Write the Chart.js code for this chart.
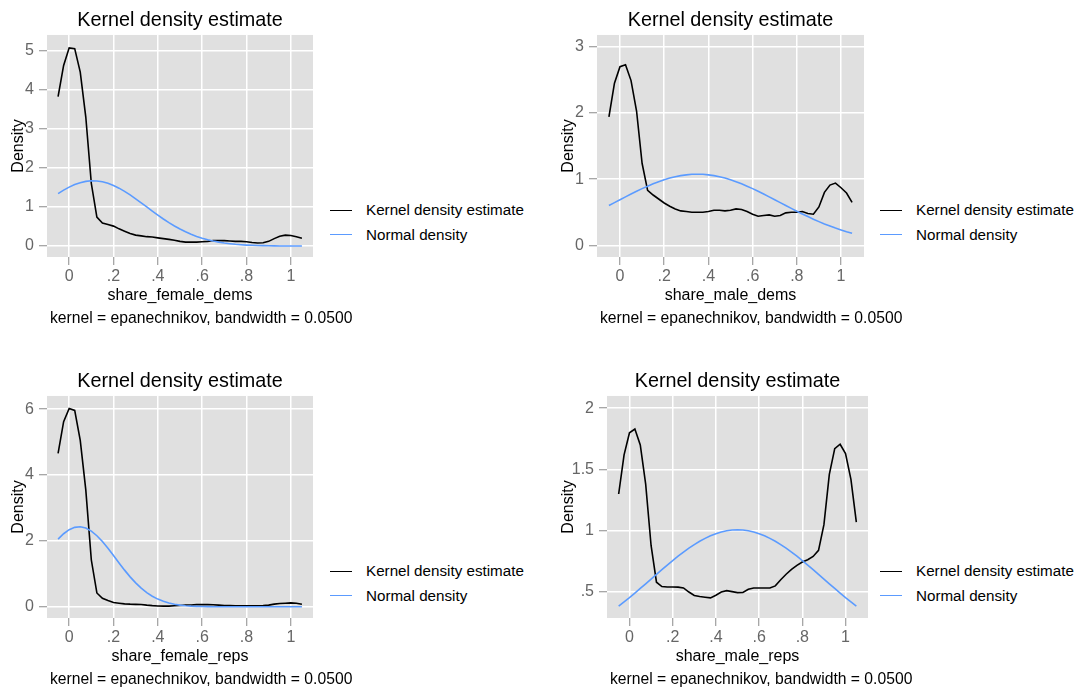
<!DOCTYPE html>
<html>
<head>
<meta charset="utf-8">
<title>Kernel density estimate</title>
<script src="https://cdn.jsdelivr.net/npm/chart.js"></script>
<style>
    body { margin: 0; background: #fff; }
    #page { position: relative; width: 1085px; height: 687px; overflow: hidden; }
    canvas { position: absolute; }
    .legend, .note { position: absolute; font-family: 'Liberation Sans', Arial, sans-serif; color: #000; white-space: nowrap; }
    .legend { font-size: 15.2px; }
    .note { font-size: 15.7px; height: 20px; line-height: 20px; }
    .legend-row { display: flex; align-items: center; height: 18px; line-height: 18px; }
    .legend-row .swatch { width: 22px; height: 0; border-top: 1.5px solid; margin-right: 14px; }
</style>
</head>
<body>
<div id="page"></div>
<script>
// Dati
const xGrid = [-0.05, -0.025, 0, 0.025, 0.05, 0.075, 0.1, 0.125, 0.15, 0.175, 0.2, 0.225, 0.25, 0.275, 0.3,
    0.325, 0.35, 0.375, 0.4, 0.425, 0.45, 0.475, 0.5, 0.525, 0.55, 0.575, 0.6, 0.625, 0.65, 0.675, 0.7,
    0.725, 0.75, 0.775, 0.8, 0.825, 0.85, 0.875, 0.9, 0.925, 0.95, 0.975, 1, 1.025, 1.05];

const femaleDemsKde = [3.82, 4.62, 5.07, 5.05, 4.45, 3.30, 1.60, 0.74, 0.59, 0.55, 0.51, 0.44, 0.38, 0.32, 0.28,
    0.26, 0.24, 0.23, 0.21, 0.19, 0.17, 0.15, 0.12, 0.10, 0.10, 0.10, 0.11, 0.12, 0.14, 0.14, 0.14,
    0.13, 0.12, 0.12, 0.11, 0.09, 0.08, 0.085, 0.12, 0.19, 0.25, 0.28, 0.27, 0.24, 0.20];
const femaleDemsNormal = [1.342, 1.430, 1.508, 1.572, 1.622, 1.654, 1.669, 1.666, 1.644, 1.606, 1.551, 1.481, 1.400, 1.308, 1.209,
    1.106, 1.000, 0.895, 0.792, 0.693, 0.600, 0.514, 0.435, 0.364, 0.302, 0.247, 0.201, 0.161, 0.128, 0.100, 0.078,
    0.060, 0.045, 0.034, 0.025, 0.019, 0.013, 0.010, 0.007, 0.005, 0.003, 0.002, 0.001, 0.001, 0.001];

const maleDemsKde = [1.94, 2.45, 2.70, 2.73, 2.49, 2.03, 1.24, 0.83, 0.76, 0.70, 0.64, 0.59, 0.55, 0.52, 0.51,
    0.50, 0.50, 0.50, 0.51, 0.53, 0.53, 0.52, 0.53, 0.55, 0.54, 0.51, 0.47, 0.44, 0.45, 0.46, 0.44,
    0.45, 0.49, 0.50, 0.50, 0.51, 0.48, 0.47, 0.58, 0.80, 0.91, 0.94, 0.87, 0.79, 0.65];
const maleDemsNormal = [0.601, 0.645, 0.689, 0.732, 0.775, 0.817, 0.857, 0.894, 0.930, 0.962, 0.991, 1.016, 1.037, 1.053, 1.065,
    1.073, 1.075, 1.073, 1.065, 1.053, 1.037, 1.016, 0.991, 0.962, 0.930, 0.894, 0.857, 0.817, 0.775, 0.732, 0.689,
    0.645, 0.601, 0.558, 0.515, 0.474, 0.434, 0.395, 0.358, 0.323, 0.291, 0.260, 0.232, 0.205, 0.181];

const femaleRepsKde = [4.66, 5.62, 6.02, 5.96, 5.05, 3.55, 1.42, 0.42, 0.26, 0.19, 0.13, 0.11, 0.09, 0.08, 0.075,
    0.07, 0.05, 0.035, 0.025, 0.02, 0.02, 0.03, 0.04, 0.05, 0.055, 0.065, 0.07, 0.065, 0.06, 0.05, 0.04,
    0.035, 0.03, 0.03, 0.03, 0.03, 0.03, 0.035, 0.05, 0.08, 0.10, 0.11, 0.12, 0.11, 0.08];
const femaleRepsNormal = [2.055, 2.218, 2.340, 2.412, 2.430, 2.390, 2.297, 2.157, 1.980, 1.775, 1.555, 1.331, 1.113, 0.909, 0.726,
    0.566, 0.431, 0.321, 0.234, 0.166, 0.115, 0.078, 0.052, 0.034, 0.021, 0.013, 0.008, 0.005, 0.003, 0.002, 0.001,
    0.001, 0, 0, 0, 0, 0, 0, 0, 0, 0, 0, 0, 0, 0];

const maleRepsKde = [1.30, 1.62, 1.80, 1.83, 1.70, 1.38, 0.88, 0.58, 0.545, 0.541, 0.541, 0.540, 0.533, 0.50, 0.472,
    0.464, 0.458, 0.452, 0.474, 0.50, 0.511, 0.503, 0.495, 0.496, 0.522, 0.533, 0.533, 0.533, 0.533, 0.55, 0.60,
    0.645, 0.684, 0.717, 0.745, 0.763, 0.79, 0.84, 1.05, 1.46, 1.67, 1.706, 1.63, 1.42, 1.07];
const maleRepsNormal = [0.384, 0.419, 0.454, 0.491, 0.529, 0.567, 0.605, 0.644, 0.682, 0.720, 0.757, 0.792, 0.826, 0.858, 0.887,
    0.914, 0.938, 0.959, 0.976, 0.990, 1.000, 1.006, 1.008, 1.006, 1.000, 0.990, 0.976, 0.959, 0.938, 0.914, 0.887,
    0.858, 0.826, 0.792, 0.757, 0.720, 0.682, 0.644, 0.605, 0.567, 0.529, 0.491, 0.454, 0.419, 0.384];

// Etichette degli assi
const xTickValues = [0, 0.2, 0.4, 0.6, 0.8, 1];
const xTickLabels = ['0', '.2', '.4', '.6', '.8', '1'];
const yTicksFemaleDems = [0, 1, 2, 3, 4, 5];
const yLabelsFemaleDems = ['0', '1', '2', '3', '4', '5'];
const yTicksMaleDems = [0, 1, 2, 3];
const yLabelsMaleDems = ['0', '1', '2', '3'];
const yTicksFemaleReps = [0, 2, 4, 6];
const yLabelsFemaleReps = ['0', '2', '4', '6'];
const yTicksMaleReps = [0.5, 1, 1.5, 2];
const yLabelsMaleReps = ['.5', '1', '1.5', '2'];

const panelTitle = 'Kernel density estimate';
const yTitle = 'Density';
const noteText = 'kernel = epanechnikov, bandwidth = 0.0500';
const seriesNames = ['Kernel density estimate', 'Normal density'];

const FONT = "'Liberation Sans', Arial, sans-serif";
const KDE_COLOR = '#000000';
const NORMAL_COLOR = '#5b9bff';
const PLOT_BG = '#e0e0e0';

// Posizioni dei quattro pannelli (area del grafico in pixel)
const panels = [
    { kde: femaleDemsKde, normal: femaleDemsNormal, xTitle: 'share_female_dems',
      yTicks: yTicksFemaleDems, yLabels: yLabelsFemaleDems,
      xMin: -0.1, xMax: 1.1, yMin: -0.28, yMax: 5.40,
      plotLeft: 47, plotTop: 35, plotWidth: 266, axisWidth: 47, legendLeft: 330, legendTop: 210 },
    { kde: maleDemsKde, normal: maleDemsNormal, xTitle: 'share_male_dems',
      yTicks: yTicksMaleDems, yLabels: yLabelsMaleDems,
      xMin: -0.104, xMax: 1.104, yMin: -0.177, yMax: 3.18,
      plotLeft: 597, plotTop: 35, plotWidth: 267, axisWidth: 47, legendLeft: 880, legendTop: 210 },
    { kde: femaleRepsKde, normal: femaleRepsNormal, xTitle: 'share_female_reps',
      yTicks: yTicksFemaleReps, yLabels: yLabelsFemaleReps,
      xMin: -0.1, xMax: 1.1, yMin: -0.34, yMax: 6.40,
      plotLeft: 47, plotTop: 396, plotWidth: 266, axisWidth: 47, legendLeft: 330, legendTop: 571 },
    { kde: maleRepsKde, normal: maleRepsNormal, xTitle: 'share_male_reps',
      yTicks: yTicksMaleReps, yLabels: yLabelsMaleReps,
      xMin: -0.104, xMax: 1.104, yMin: 0.288, yMax: 2.10,
      plotLeft: 607, plotTop: 396, plotWidth: 261, axisWidth: 57, legendLeft: 880, legendTop: 571 }
];

const PLOT_HEIGHT = 222;
const TITLE_BLOCK = 35;
const XAXIS_BLOCK = 50;
const NOTE_BLOCK = 26;
const RIGHT_PAD = 6;

Chart.defaults.font.family = FONT;
Chart.defaults.color = '#000';

// Sfondo grigio dell'area del grafico
const plotBackground = {
    id: 'plotBackground',
    beforeDraw(chart) {
        const { ctx, chartArea: a } = chart;
        ctx.save();
        ctx.fillStyle = PLOT_BG;
        ctx.fillRect(a.left, a.top, a.right - a.left, a.bottom - a.top);
        ctx.restore();
    }
};

function toPoints(ys) {
    return xGrid.map((x, i) => ({ x: x, y: ys[i] }));
}

function gridOptions() {
    return {
        color: '#ffffff',
        lineWidth: 1.5,
        tickColor: '#8a8a8a',
        tickWidth: 1,
        tickLength: 8
    };
}

function createPanel(p) {
    const page = document.getElementById('page');
    const canvas = document.createElement('canvas');
    const width = p.axisWidth + p.plotWidth + RIGHT_PAD;
    const height = TITLE_BLOCK + PLOT_HEIGHT + XAXIS_BLOCK + NOTE_BLOCK;
    canvas.width = width;
    canvas.height = height;
    canvas.style.left = (p.plotLeft - p.axisWidth) + 'px';
    canvas.style.top = (p.plotTop - TITLE_BLOCK) + 'px';
    canvas.style.width = width + 'px';
    canvas.style.height = height + 'px';
    page.appendChild(canvas);

    new Chart(canvas.getContext('2d'), {
        type: 'line',
        data: {
            datasets: [
                {
                    label: seriesNames[0],
                    data: toPoints(p.kde),
                    borderColor: KDE_COLOR,
                    borderWidth: 1.6,
                    pointRadius: 0,
                    tension: 0,
                    fill: false,
                    order: 1
                },
                {
                    label: seriesNames[1],
                    data: toPoints(p.normal),
                    borderColor: NORMAL_COLOR,
                    borderWidth: 1.6,
                    pointRadius: 0,
                    tension: 0,
                    fill: false,
                    order: 0
                }
            ]
        },
        options: {
            responsive: false,
            animation: false,
            devicePixelRatio: 1,
            layout: { padding: { left: 0, top: 0, right: RIGHT_PAD, bottom: NOTE_BLOCK } },
            plugins: {
                legend: { display: false },
                tooltip: { enabled: false },
                title: {
                    display: true,
                    text: panelTitle,
                    fullSize: false,
                    color: '#000',
                    font: { size: 19.8, weight: 'normal' },
                    padding: { top: 9.1, bottom: 2.1 }
                }
            },
            scales: {
                x: {
                    type: 'linear',
                    min: p.xMin,
                    max: p.xMax,
                    border: { display: false },
                    grid: gridOptions(),
                    afterBuildTicks: (scale) => {
                        scale.ticks = xTickValues.map(v => ({ value: v }));
                    },
                    afterFit: (scale) => { scale.height = XAXIS_BLOCK; },
                    ticks: {
                        color: '#666666',
                        font: { size: 16 },
                        padding: 2,
                        maxRotation: 0,
                        callback: (value, index) => xTickLabels[index]
                    },
                    title: {
                        display: true,
                        text: p.xTitle,
                        color: '#000',
                        font: { size: 16 },
                        padding: { top: 0, bottom: 1.9 }
                    }
                },
                y: {
                    type: 'linear',
                    min: p.yMin,
                    max: p.yMax,
                    border: { display: false },
                    grid: gridOptions(),
                    afterBuildTicks: (scale) => {
                        scale.ticks = p.yTicks.map(v => ({ value: v }));
                    },
                    afterFit: (scale) => { scale.width = p.axisWidth; },
                    ticks: {
                        color: '#666666',
                        font: { size: 16 },
                        padding: 5,
                        callback: (value, index) => p.yLabels[index]
                    },
                    title: {
                        display: true,
                        text: yTitle,
                        color: '#000',
                        font: { size: 16 },
                        padding: { top: 8.7, bottom: 0 }
                    }
                }
            }
        },
        plugins: [plotBackground]
    });

    // Nota sotto l'asse x
    const note = document.createElement('div');
    note.className = 'note';
    note.textContent = noteText;
    note.style.left = (p.plotLeft + 3) + 'px';
    note.style.top = (p.plotTop + PLOT_HEIGHT + 61 - 10) + 'px';
    page.appendChild(note);

    // Legenda a destra del pannello
    const legend = document.createElement('div');
    legend.className = 'legend';
    legend.style.left = p.legendLeft + 'px';
    legend.style.top = (p.legendTop - 9) + 'px';
    const colors = [KDE_COLOR, NORMAL_COLOR];
    seriesNames.forEach((name, i) => {
        const row = document.createElement('div');
        row.className = 'legend-row';
        if (i > 0) row.style.marginTop = '6.5px';
        const swatch = document.createElement('span');
        swatch.className = 'swatch';
        swatch.style.borderTopColor = colors[i];
        const label = document.createElement('span');
        label.textContent = name;
        row.appendChild(swatch);
        row.appendChild(label);
        legend.appendChild(row);
    });
    page.appendChild(legend);
}

panels.forEach(createPanel);
</script>
</body>
</html>
